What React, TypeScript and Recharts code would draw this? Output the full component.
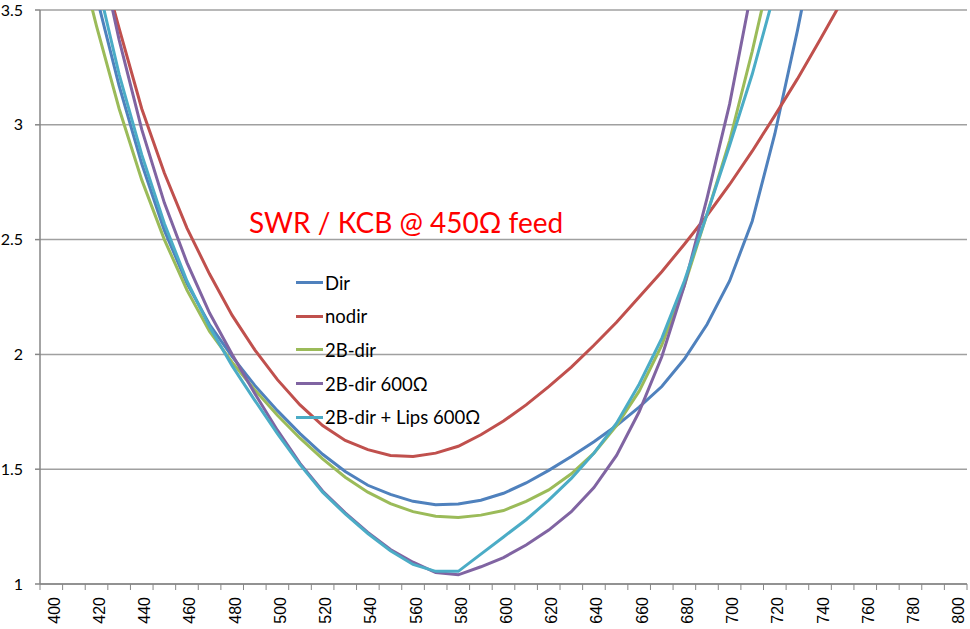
import {
  CartesianGrid,
  Legend,
  Line,
  LineChart,
  XAxis,
  YAxis,
} from 'recharts';

// Frequency categories (MHz), 10 MHz apart; Excel puts tick marks between them.
const freqs = [
  400, 410, 420, 430, 440, 450, 460, 470, 480, 490, 500, 510, 520, 530, 540, 550, 560, 570,
  580, 590, 600, 610, 620, 630, 640, 650, 660, 670, 680, 690, 700, 710, 720, 730, 740, 750,
  760, 770, 780, 790, 800,
];
const labelTicks = [
  400, 420, 440, 460, 480, 500, 520, 540, 560, 580, 600, 620, 640, 660, 680, 700, 720, 740,
  760, 780, 800,
];
const yTicks = [1, 1.5, 2, 2.5, 3, 3.5];

// SWR per frequency (null = not drawn / off chart).
const dir = [
  null, 4.0, 3.56, 3.17, 2.83, 2.54, 2.31, 2.13, 1.99, 1.865, 1.755, 1.655, 1.565, 1.49, 1.43,
  1.39, 1.36, 1.345, 1.348, 1.365, 1.395, 1.44, 1.495, 1.555, 1.62, 1.69, 1.77, 1.86, 1.98,
  2.13, 2.32, 2.58, 2.96, 3.41, 3.9, null, null, null, null, null, null,
];
const nodir = [
  null, 4.15, 3.78, 3.42, 3.07, 2.79, 2.55, 2.35, 2.17, 2.02, 1.89, 1.78, 1.69, 1.625, 1.585,
  1.56, 1.555, 1.57, 1.6, 1.65, 1.71, 1.78, 1.86, 1.945, 2.04, 2.14, 2.25, 2.36, 2.48, 2.605,
  2.74, 2.885, 3.04, 3.2, 3.37, 3.545, null, null, null, null, null,
];
const twoBDir = [
  null, 3.82, 3.43, 3.07, 2.76, 2.5, 2.28, 2.1, 1.965, 1.845, 1.735, 1.635, 1.545, 1.465, 1.4,
  1.35, 1.315, 1.295, 1.29, 1.3, 1.32, 1.36, 1.41, 1.48, 1.57, 1.69, 1.84, 2.04, 2.3, 2.61,
  2.93, 3.32, 3.75, null, null, null, null, null, null, null, null,
];
const twoBDir600 = [
  null, 4.3, 3.82, 3.37, 2.98, 2.66, 2.4, 2.18, 2.0, 1.83, 1.67, 1.525, 1.405, 1.31, 1.225,
  1.15, 1.095, 1.05, 1.04, 1.075, 1.115, 1.17, 1.235, 1.315, 1.42, 1.56, 1.75, 1.99, 2.3, 2.68,
  3.09, 3.6, null, null, null, null, null, null, null, null, null,
];
const twoBDirLips600 = [
  null, 4.1, 3.64, 3.22, 2.87, 2.57, 2.32, 2.12, 1.95, 1.8, 1.655, 1.52, 1.4, 1.305, 1.22,
  1.145, 1.085, 1.055, 1.055, 1.13, 1.205, 1.28, 1.365, 1.46, 1.57, 1.7, 1.87, 2.07, 2.32,
  2.61, 2.91, 3.22, 3.58, null, null, null, null, null, null, null, null,
];

const SERIES = [
  { key: 'dir', label: 'Dir', color: '#4F81BD', values: dir },
  { key: 'nodir', label: 'nodir', color: '#C0504D', values: nodir },
  { key: 'twoBDir', label: '2B-dir', color: '#9BBB59', values: twoBDir },
  { key: 'twoBDir600', label: '2B-dir 600Ω', color: '#8064A2', values: twoBDir600 },
  { key: 'twoBDirLips600', label: '2B-dir + Lips 600Ω', color: '#4BACC6', values: twoBDirLips600 },
];

const rows = freqs.map((f, i) => {
  const row: Record<string, number | null> = { f };
  for (const s of SERIES) row[s.key] = s.values[i];
  return row;
});

// tick marks sit on the category boundaries, labels on every other category
const boundaries = [...freqs.map((f) => f - 5), freqs[freqs.length - 1] + 5];
const xTicks = Array.from(new Set([...boundaries, ...labelTicks])).sort((a, b) => a - b);
const labelSet = new Set(labelTicks);

const AXIS = '#868686';
const GRID = '#a0a0a0';

function FreqTick(props: any) {
  const { x, y, payload } = props;
  const v = payload.value as number;
  if (labelSet.has(v)) {
    const ty = y + 13;
    return (
      <text
        x={x + 3}
        y={ty}
        transform={`rotate(-90, ${x + 3}, ${ty})`}
        textAnchor="end"
        dominantBaseline="central"
        fontFamily="'Liberation Sans', Arial, sans-serif"
        fontSize={16}
        fill="#000"
      >
        {v}
      </text>
    );
  }
  return <line x1={x} x2={x} y1={y} y2={y + 6} stroke={AXIS} strokeWidth={1} />;
}

function LegendBox() {
  return (
    <div style={{ fontFamily: 'Lato, sans-serif', fontSize: 18.5, color: '#000' }}>
      {SERIES.map((s) => (
        <div key={s.key} style={{ display: 'flex', alignItems: 'center', height: 33.6 }}>
          <span
            style={{ display: 'inline-block', width: 27, height: 3, background: s.color, marginRight: 2 }}
          />
          <span>{s.label}</span>
        </div>
      ))}
    </div>
  );
}

export default function App() {
  return (
    <div style={{ position: 'absolute', left: 0, top: 0, width: 970, height: 629, background: '#fff' }}>
      <LineChart
        width={970}
        height={629}
        data={rows}
        margin={{ top: 10, right: 3, bottom: 0, left: 0 }}
      >
        <CartesianGrid vertical={false} stroke={GRID} strokeWidth={1.5} />
        <XAxis
          dataKey="f"
          type="number"
          domain={[395, 805]}
          ticks={xTicks}
          interval={0}
          height={45}
          tickSize={0}
          tickMargin={0}
          tickLine={false}
          axisLine={{ stroke: AXIS, strokeWidth: 1.5 }}
          tick={<FreqTick />}
        />
        <YAxis
          type="number"
          domain={[1, 3.5]}
          ticks={yTicks}
          allowDataOverflow
          width={40}
          tickSize={5}
          tickMargin={12}
          axisLine={{ stroke: AXIS, strokeWidth: 1.5 }}
          tickLine={{ stroke: AXIS, strokeWidth: 1.5 }}
          tick={{ fontSize: 16, fill: '#000', fontFamily: 'Lato, sans-serif' }}
        />
        <Legend
          layout="vertical"
          align="center"
          verticalAlign="middle"
          content={<LegendBox />}
          wrapperStyle={{ left: 296, top: 266, width: 220 }}
        />
        {SERIES.map((s) => (
          <Line
            key={s.key}
            dataKey={s.key}
            name={s.label}
            type="linear"
            stroke={s.color}
            strokeWidth={3}
            dot={false}
            isAnimationActive={false}
          />
        ))}
      </LineChart>
      <div
        style={{
          position: 'absolute',
          left: 249,
          top: 205,
          color: '#ff0000',
          fontFamily: 'Lato, sans-serif',
          fontSize: 28,
          whiteSpace: 'nowrap',
        }}
      >
        SWR / КСВ @ 450Ω feed
      </div>
    </div>
  );
}
